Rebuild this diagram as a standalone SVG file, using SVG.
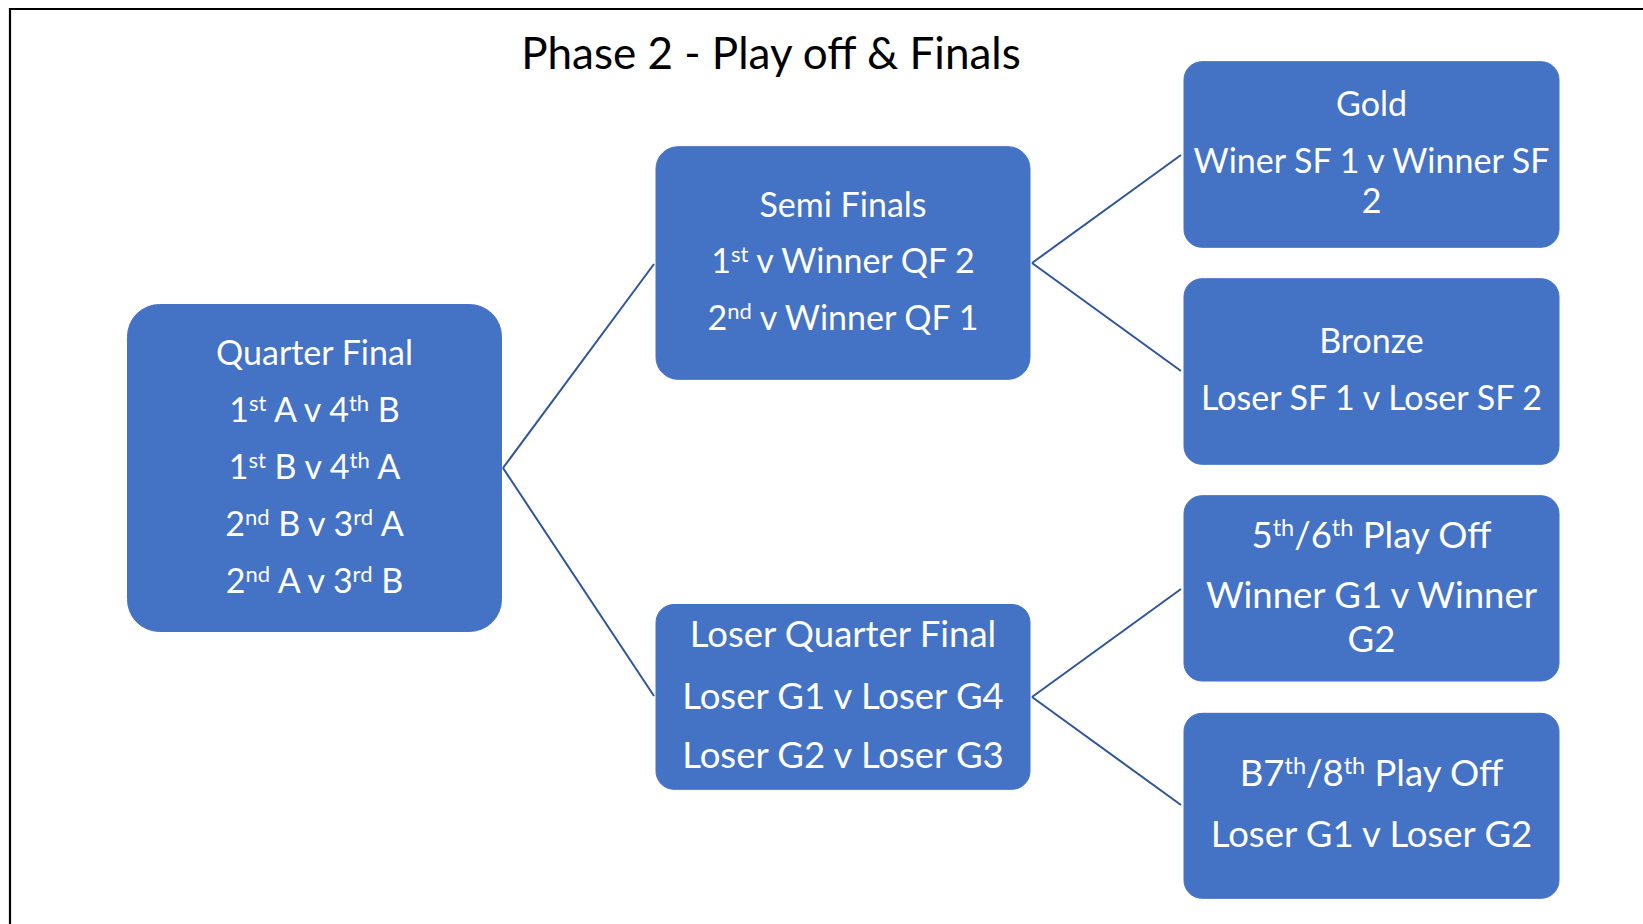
<svg xmlns="http://www.w3.org/2000/svg" width="1643" height="924" viewBox="0 0 1643 924">
<style>
.box{fill:#4472C4;stroke:#4472C4;stroke-width:1}
.t{font-family:Lato,"Liberation Sans",sans-serif;fill:#ffffff;text-anchor:middle}
.a{font-size:34px}
.b{font-size:36.5px}
.conn{stroke:#2F5597;stroke-width:2;fill:none}
.title{font-family:Lato,"Liberation Sans",sans-serif;font-size:44px;fill:#000;text-anchor:middle}
</style>
<rect width="1643" height="924" fill="#fff"/>
<path d="M10 924 V9 H1643" fill="none" stroke="#000" stroke-width="2.2"/>
<text class="title" x="771" y="69">Phase 2 - Play off &amp; Finals</text>
<g id="connectors">
<line class="conn" x1="503" y1="468" x2="654" y2="264"/>
<line class="conn" x1="503" y1="468" x2="654" y2="696"/>
<line class="conn" x1="1032" y1="263" x2="1181" y2="155"/>
<line class="conn" x1="1032" y1="263" x2="1181" y2="371"/>
<line class="conn" x1="1032" y1="697" x2="1181" y2="589"/>
<line class="conn" x1="1032" y1="697" x2="1181" y2="805"/>
</g>
<g id="quarter-final">
<rect class="box" x="127.5" y="304.5" width="374" height="327" rx="32"/>
<text class="t a" x="314.5" y="365">Quarter Final</text>
<text class="t a" x="314.5" y="421.7">1<tspan font-size="22" dy="-11">st</tspan><tspan dy="11"> A v 4</tspan><tspan font-size="22" dy="-11">th</tspan><tspan dy="11"> B</tspan></text>
<text class="t a" x="314.5" y="479">1<tspan font-size="22" dy="-11">st</tspan><tspan dy="11"> B v 4</tspan><tspan font-size="22" dy="-11">th</tspan><tspan dy="11"> A</tspan></text>
<text class="t a" x="314.5" y="536">2<tspan font-size="22" dy="-11">nd</tspan><tspan dy="11"> B v 3</tspan><tspan font-size="22" dy="-11">rd</tspan><tspan dy="11"> A</tspan></text>
<text class="t a" x="314.5" y="593.3">2<tspan font-size="22" dy="-11">nd</tspan><tspan dy="11"> A v 3</tspan><tspan font-size="22" dy="-11">rd</tspan><tspan dy="11"> B</tspan></text>
</g>
<g id="semi-finals">
<rect class="box" x="656" y="146.7" width="374" height="232.6" rx="22"/>
<text class="t a" x="843" y="217.3">Semi Finals</text>
<text class="t a" x="843" y="273.3">1<tspan font-size="22" dy="-11">st</tspan><tspan dy="11"> v Winner QF 2</tspan></text>
<text class="t a" x="843" y="330">2<tspan font-size="22" dy="-11">nd</tspan><tspan dy="11"> v Winner QF 1</tspan></text>
</g>
<g id="loser-quarter-final">
<rect class="box" x="656" y="604.5" width="374" height="184.8" rx="18"/>
<text class="t b" x="843" y="646.7">Loser Quarter Final</text>
<text class="t b" x="843" y="709">Loser G1 v Loser G4</text>
<text class="t b" x="843" y="768.3">Loser G2 v Loser G3</text>
</g>
<g id="gold">
<rect class="box" x="1184" y="61.7" width="375" height="185.6" rx="18"/>
<text class="t a" x="1371.5" y="115.7">Gold</text>
<text class="t a" x="1371.5" y="173.3">Winer SF 1 v Winner SF</text>
<text class="t a" x="1371.5" y="213.3">2</text>
</g>
<g id="bronze">
<rect class="box" x="1184" y="278.7" width="375" height="185.6" rx="18"/>
<text class="t a" x="1371.5" y="353.3">Bronze</text>
<text class="t a" x="1371.5" y="410">Loser SF 1 v Loser SF 2</text>
</g>
<g id="play-off-5-6">
<rect class="box" x="1184" y="495.7" width="375" height="185.3" rx="18"/>
<text class="t b" x="1371.5" y="548.3">5<tspan font-size="23.5" dy="-12">th</tspan><tspan dy="12">/6</tspan><tspan font-size="23.5" dy="-12">th</tspan><tspan dy="12"> Play Off</tspan></text>
<text class="t b" x="1371.5" y="608.3">Winner G1 v Winner</text>
<text class="t b" x="1371.5" y="652.3">G2</text>
</g>
<g id="play-off-7-8">
<rect class="box" x="1184" y="713.3" width="375" height="185" rx="18"/>
<text class="t b" x="1371.5" y="786">B7<tspan font-size="23.5" dy="-12">th</tspan><tspan dy="12">/8</tspan><tspan font-size="23.5" dy="-12">th</tspan><tspan dy="12"> Play Off</tspan></text>
<text class="t b" x="1371.5" y="846.7">Loser G1 v Loser G2</text>
</g>
</svg>
